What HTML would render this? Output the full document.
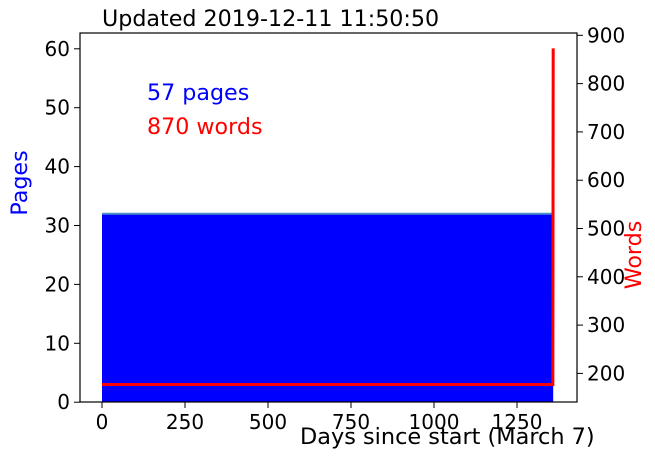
<!DOCTYPE html>
<html><head><meta charset="utf-8"><style>
body{margin:0;background:#fff}
svg text{font-family:"DejaVu Sans","Liberation Sans",sans-serif}
</style></head><body>
<svg width="655" height="458" xmlns="http://www.w3.org/2000/svg" id="c">
<text x="102" y="26" font-size="22.2">Updated 2019-12-11 11:50:50</text>
<text x="147" y="100" font-size="22.2" fill="#0000ff">57 pages</text>
<text x="147" y="134" font-size="22.2" fill="#ff0000">870 words</text>
<text transform="translate(27,183) rotate(-90)" font-size="22.2" fill="#0000ff" text-anchor="middle">Pages</text>
<text transform="translate(641,255) rotate(-90)" font-size="22.2" fill="#ff0000" text-anchor="middle">Words</text>
<text x="300" y="444" font-size="22.4">Days since start (March 7)</text>
<g id="marks"></g>
<rect x="80" y="33" width="497" height="369" fill="none" stroke="#000" stroke-width="1.2"/>
<g id="axes"></g>
</svg>
<script>
const days=[0,1358,1359];
const pages=[32,32,32];
const words=[177,177,873];
const xTicks=[0,250,500,750,1000,1250];
const pTicks=[0,10,20,30,40,50,60];
const wTicks=[200,300,400,500,600,700,800,900];
const NS="http://www.w3.org/2000/svg";
const X=d=>102+d*(415/1250);
const YP=p=>402.2-p*5.89;
const YW=w=>35.3+(900-w)*0.483;
function mk(t,a,parent){const e=document.createElementNS(NS,t);for(const k in a)e.setAttribute(k,a[k]);parent.appendChild(e);return e;}
const marks=document.getElementById('marks'),axes=document.getElementById('axes');
let pd="M"+X(days[0])+","+YP(0);
for(let i=0;i<days.length;i++)pd+=" L"+X(days[i])+","+YP(pages[i]);
pd+=" L"+X(days[days.length-1])+","+YP(0)+" Z";
const area=mk('path',{d:pd,fill:'#0000ff'},marks);


const pl=mk('polyline',{points:days.map((d,i)=>X(d)+","+YP(pages[i])).join(' '),fill:'none',stroke:'#4c8fc8','stroke-width':2},marks);


const wl=mk('polyline',{points:days.map((d,i)=>X(d)+","+YW(words[i])).join(' '),fill:'none',stroke:'#ff0000','stroke-width':3},marks);


xTicks.forEach(t=>{const x=X(t);
 const l=mk('line',{x1:x,x2:x,y1:402,y2:408,stroke:'#000'},axes);
 
 
 const s=mk('text',{x:x,y:429,'font-size':20,'text-anchor':'middle'},axes);s.textContent=t;
 
 });
pTicks.forEach(t=>{const y=YP(t);
 const l=mk('line',{x1:74,x2:80,y1:y,y2:y,stroke:'#000'},axes);
 
 
 const s=mk('text',{x:70,y:y+7,'font-size':20,'text-anchor':'end'},axes);s.textContent=t;
 
 });
wTicks.forEach(t=>{const y=YW(t);
 const l=mk('line',{x1:577,x2:583,y1:y,y2:y,stroke:'#000'},axes);
 
 
 const s=mk('text',{x:587,y:y+7,'font-size':20},axes);s.textContent=t;
 
 });
</script>
</body></html>
